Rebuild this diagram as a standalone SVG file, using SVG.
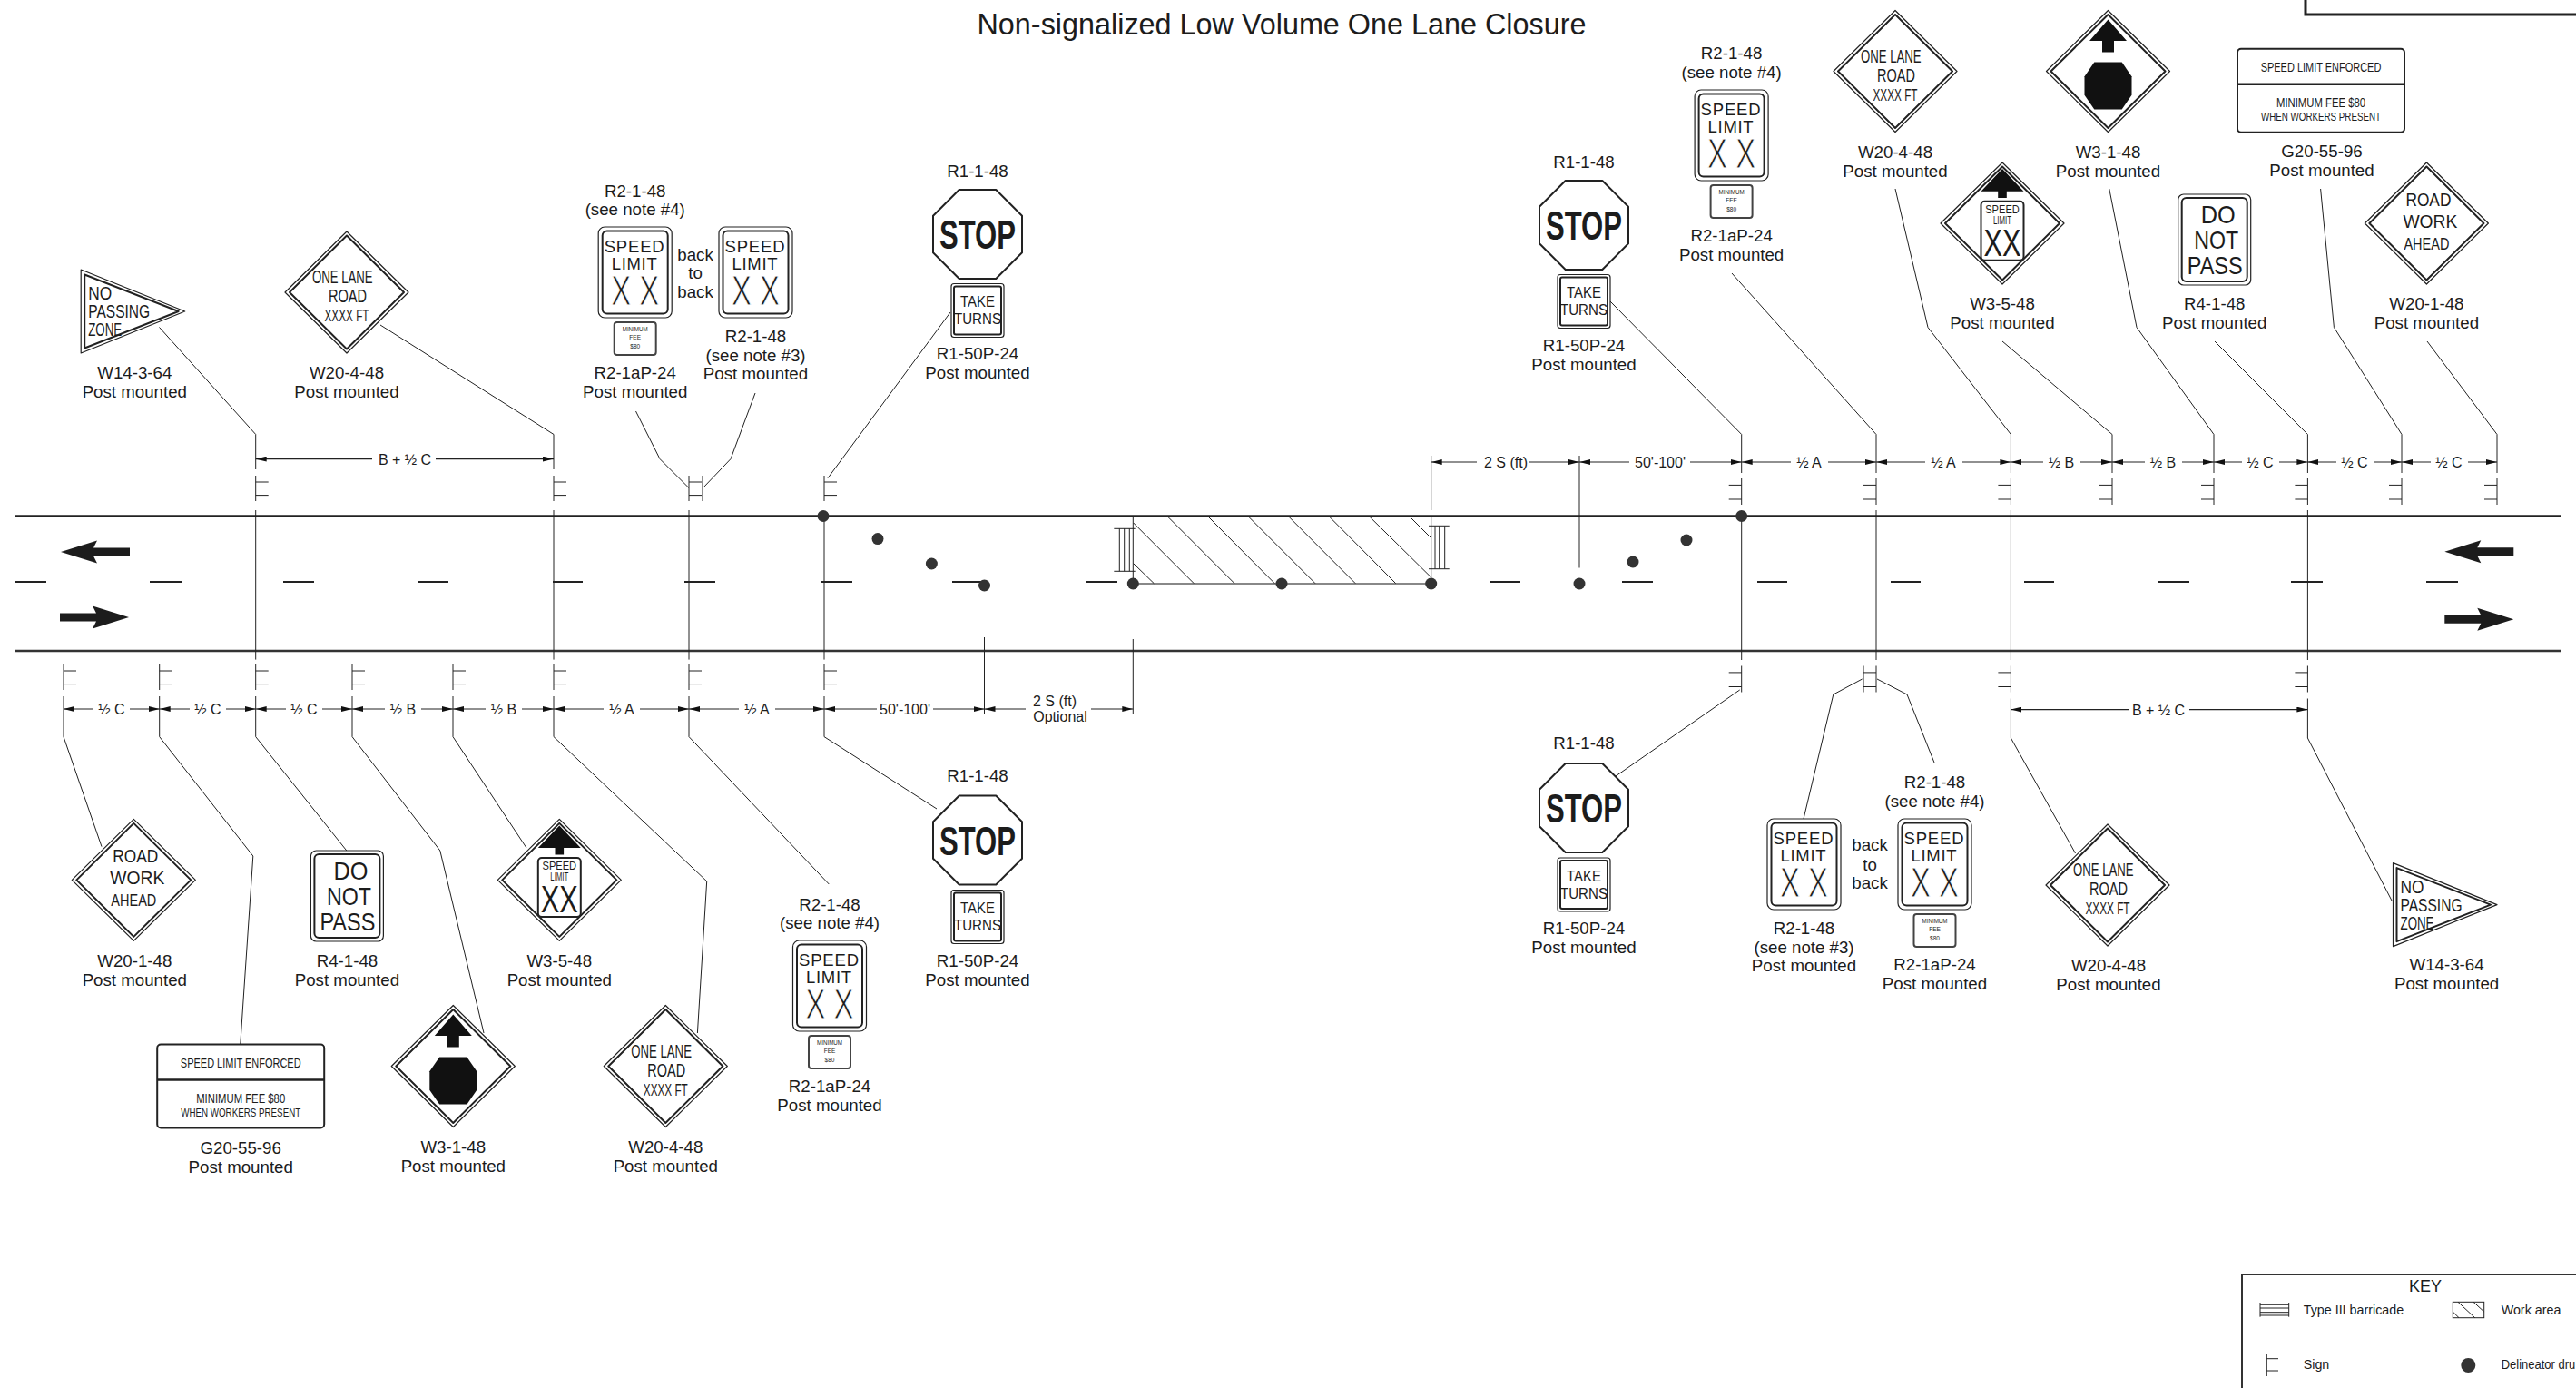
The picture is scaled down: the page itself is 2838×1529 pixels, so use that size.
<svg xmlns="http://www.w3.org/2000/svg" xmlns:xlink="http://www.w3.org/1999/xlink" width="2838" height="1529" viewBox="0 0 2838 1529">
<style>
text{font-family:"Liberation Sans",Arial,sans-serif;fill:#1c1c1c;text-anchor:middle}
.lb{font-size:18.7px}
.dm{font-size:16px}
.st{font-size:20px}
.sm{font-size:18px}
.sl{font-size:18.5px}
.xx{font-size:47px;stroke:#fff;stroke-width:1.1px}
.xb{font-size:43px}
.lm{font-size:12px}
.dn{font-size:28px}
.stop{font-size:45px;font-weight:bold}
.tk{font-size:17px}
.pl{font-size:6.5px}
.g1{font-size:15px}
.g2{font-size:13.5px}
.ti{font-size:33px}
.ky{font-size:14.3px;text-anchor:start}
.s{text-anchor:start}
.ln{fill:none;stroke:#222;stroke-width:1}
.o1{fill:#fff;stroke:#222;stroke-width:1.2;stroke-linejoin:round}
.o2{fill:#fff;stroke:#222;stroke-width:2;stroke-linejoin:round}
.dim{fill:none;stroke:#222;stroke-width:1.2;marker-start:url(#ah);marker-end:url(#ah)}
.rd{stroke:#222;stroke-width:2.5}
.dash{stroke:#222;stroke-width:1.8}
.dr{fill:#333}
</style>
<defs>
<marker id="ah" markerUnits="userSpaceOnUse" markerWidth="12" markerHeight="6" refX="12" refY="3" orient="auto-start-reverse"><path d="M0 0L12 3L0 6z" fill="#111"/></marker>
<g id="diamond"><polygon class="o1" points="0,-67 68,0 0,67 -68,0"/><polygon class="o2" points="0,-62.5 63,0 0,62.5 -63,0"/></g>
<g id="tri"><polygon class="o1" points="1.5,2 116,48 1.5,94"/><polygon class="o2" points="5.5,7.5 109,48 5.5,88.5"/></g>
<g id="slim"><rect class="o1" x="-40.5" y="-50" width="81" height="100" rx="7"/><rect class="o2" x="-36" y="-45.5" width="72" height="91" rx="5"/></g>
<g id="dnp"><rect class="o1" x="-40" y="-50" width="80" height="100" rx="6"/><rect class="o2" x="-36" y="-46" width="72" height="92" rx="5"/></g>
<g id="oct"><polygon class="o2" points="-20.3,-49 20.3,-49 49,-20.3 49,20.3 20.3,49 -20.3,49 -49,20.3 -49,-20.3"/></g>
<g id="take"><rect class="o1" x="-29" y="-29.5" width="58" height="59" rx="3"/><rect class="o2" x="-26" y="-26.5" width="52" height="53" rx="2"/></g>
<g id="plq"><rect class="o2" x="-23" y="-18" width="46" height="36" rx="3" style="stroke:#444"/></g>
<g id="gsign"><rect class="o2" x="-92" y="-46" width="184" height="92" rx="4"/><path d="M-92-7H92" class="ln" style="stroke-width:2.5"/></g>
<g id="p"><path class="ln" d="M0 0V28M0 7H14M0 21.6H14"/></g>
<g id="q"><path class="ln" d="M0 0V29M0 7.4H-14M0 23H-14"/></g>
<path id="al" d="M0 0L40-12.5L36-4.5H76V4.5H36L40 12.5z" fill="#1c1c1c"/>
<path id="ar" d="M0 0L-40-12.5L-36-4.5H-76V4.5H-36L-40 12.5z" fill="#1c1c1c"/>
</defs>
<rect width="2838" height="1529" fill="#fff"/>
<g id="title"><text class="ti" x="1412" y="38" textLength="671" lengthAdjust="spacingAndGlyphs">Non-signalized Low Volume One Lane Closure</text></g>
<path id="title-block" d="M2540 0V16H2838" fill="none" stroke="#222" stroke-width="3"/>

<g id="road">
<path class="rd" d="M17 568.5H2822"/>
<path class="rd" d="M17 717H2822" style="stroke:#333"/>
<path class="dash" d="M17 641H51M165 641H200M312 641H346M460 641H494M609 641H642M754 641H788M905 641H939M1049 641H1084M1196 641H1231M1641 641H1675M1787 641H1821M1936 641H1969M2083 641H2116M2230 641H2263M2377 641H2412M2524 641H2559M2673 641H2708"/>
<use xlink:href="#al" href="#al" x="67" y="608"/>
<use xlink:href="#ar" href="#ar" x="142" y="680"/>
<use xlink:href="#al" href="#al" x="2693.3" y="607.7"/>
<use xlink:href="#ar" href="#ar" x="2769.3" y="682.3"/>
</g>

<g id="work-area">
<path d="M1248.3 568V643H1576.7V568" fill="none" stroke="#222" stroke-width="1"/>
<path d="M1248.3 643H1576.7" fill="none" stroke="#888" stroke-width="2"/>
<path class="ln" d="M1248.7 576L1315.3 642.7M1248.7 620.7L1271.3 642.7M1286.7 569.3L1360 642.7M1331.3 569.3L1404.3 642.7M1375.7 569.3L1449 642.7M1420 569.3L1493.3 642.7M1464.7 569.3L1537.7 642.7M1509 569.3L1576.7 636M1553.3 569.3L1576.7 592.7"/>
<path id="barricade-left" class="ln" d="M1227.3 582.3H1250.7M1227.3 629.3H1250.7M1233.3 582.3V629.3M1238.7 582.3V629.3M1244.3 582.3V629.3"/>
<path id="barricade-right" class="ln" d="M1574 579.3H1596.7M1574 626.7H1596.7M1581 579.3V626.7M1585.7 579.3V626.7M1591.7 579.3V626.7"/>
</g>

<g id="connectors">
<g id="posts">
<use href="#p" x="281.7" y="524"/><use href="#p" x="610" y="524"/><use href="#p" x="759" y="524"/><use href="#p" x="908" y="524"/>
<path class="ln" d="M774 524V552"/>
<use href="#p" x="70" y="732"/><use href="#p" x="175.7" y="732"/><use href="#p" x="281.7" y="732"/><use href="#p" x="388" y="732"/><use href="#p" x="499" y="732"/><use href="#p" x="610" y="732"/><use href="#p" x="759" y="732"/><use href="#p" x="908" y="732"/>
<use href="#q" x="1918.7" y="527"/><use href="#q" x="2067" y="527"/><use href="#q" x="2215.4" y="527"/><use href="#q" x="2327" y="527"/><use href="#q" x="2439" y="527"/><use href="#q" x="2542.4" y="527"/><use href="#q" x="2646" y="527"/><use href="#q" x="2751" y="527"/>
<use href="#q" x="1918.7" y="733.5"/><use href="#q" x="2067" y="733.5"/><use href="#q" x="2215.4" y="733.5"/><use href="#q" x="2542.4" y="733.5"/>
<path class="ln" d="M2053 733.5V762.5"/>
</g>
<path class="ln" d="M281.7 562V726.6M610 562V726.6M759 562V726.6M908 568V726.6M1918.7 568V727M2067 562V727M2215.4 562V727M2542.4 562V727M1084.5 702V786M1248.3 704V786M1576.7 502V562M1740 502V625.5"/>
<g id="leaders" class="ln">
<polyline points="281.7,517 281.7,478.5 175.5,360.5"/>
<polyline points="610,517 610,478.5 419,358"/>
<polyline points="759,537.5 727,505.6 700.5,453"/>
<polyline points="774.5,537.5 805,505.6 832,433"/>
<polyline points="912,526.7 1047,344"/>
<polyline points="70,767 70,811.6 112,932.6"/>
<polyline points="175.7,767 175.7,811.6 278.8,943 264.8,1150"/>
<polyline points="281.7,767 281.7,811.6 381.8,937"/>
<polyline points="388,767 388,811.6 484.8,937 533,1138"/>
<polyline points="499,767 499,811.6 580,934"/>
<polyline points="610,767 610,811.6 778.7,970.8 768.4,1138"/>
<polyline points="759,767 759,811.6 913.3,974"/>
<polyline points="908,767 908,811.6 1032,891"/>
<polyline points="1774,332 1918.7,478.5 1918.7,521"/>
<polyline points="1908,301 2067,478.5 2067,521"/>
<polyline points="2088,208 2124,360.6 2215.4,478.5 2215.4,521"/>
<polyline points="2206,376 2327,478.5 2327,521"/>
<polyline points="2323.8,208 2354,360.6 2439,478.5 2439,521"/>
<polyline points="2440,376 2542.4,478.5 2542.4,521"/>
<polyline points="2556.6,208 2571.4,360.6 2646,478.5 2646,521"/>
<polyline points="2674,376 2751,478.5 2751,521"/>
<polyline points="1916.7,760 1780,855"/>
<polyline points="2051.6,748 2019.8,765 1987,902"/>
<polyline points="2068,748 2101,765 2131,840"/>
<polyline points="2215.4,769.5 2215.4,813 2286.5,940"/>
<polyline points="2542.4,769.5 2542.4,813 2635,992"/>
</g>
<g id="dimensions">
<path class="dim" d="M281.7 505.6H410M480 505.6H610"/><text class="dm" x="446" y="511.5">B + ½ C</text>
<path class="dim" d="M70 781H103M143 781H175.7"/><text class="dm" x="123" y="787">½ C</text>
<path class="dim" d="M175.7 781H209M249 781H281.7"/><text class="dm" x="229" y="787">½ C</text>
<path class="dim" d="M281.7 781H315M355 781H388"/><text class="dm" x="335" y="787">½ C</text>
<path class="dim" d="M388 781H424M464 781H499"/><text class="dm" x="444" y="787">½ B</text>
<path class="dim" d="M499 781H535M575 781H610"/><text class="dm" x="555" y="787">½ B</text>
<path class="dim" d="M610 781H665M705 781H759"/><text class="dm" x="685" y="787">½ A</text>
<path class="dim" d="M759 781H814M854 781H908"/><text class="dm" x="834" y="787">½ A</text>
<path class="dim" d="M908 781H966M1028 781H1084.5"/><text class="dm" x="997" y="787">50'-100'</text>
<path class="dim" d="M1084.5 781H1130M1202 781H1248.3"/><text class="dm" x="1162" y="778">2 S (ft)</text><text class="dm" x="1168" y="795">Optional</text>
<path class="dim" d="M1576.7 509H1627M1685 509H1740"/><text class="dm" x="1659" y="515">2 S (ft)</text>
<path class="dim" d="M1740 509H1795M1862 509H1918.7"/><text class="dm" x="1829" y="515">50'-100'</text>
<path class="dim" d="M1918.7 509H1973M2014 509H2067"/><text class="dm" x="1993" y="515">½ A</text>
<path class="dim" d="M2067 509H2121M2162 509H2215.4"/><text class="dm" x="2141" y="515">½ A</text>
<path class="dim" d="M2215.4 509H2251M2292 509H2327"/><text class="dm" x="2271" y="515">½ B</text>
<path class="dim" d="M2327 509H2363M2404 509H2439"/><text class="dm" x="2383" y="515">½ B</text>
<path class="dim" d="M2439 509H2470M2511 509H2542.4"/><text class="dm" x="2490" y="515">½ C</text>
<path class="dim" d="M2542.4 509H2574M2615 509H2646"/><text class="dm" x="2594" y="515">½ C</text>
<path class="dim" d="M2646 509H2678M2719 509H2751"/><text class="dm" x="2698" y="515">½ C</text>
<path class="dim" d="M2215.4 781.6H2345M2412 781.6H2542.4"/><text class="dm" x="2378" y="787.5">B + ½ C</text>
</g>
</g>

<g id="drums">
<circle class="dr" cx="907" cy="568.5" r="6.5"/><circle class="dr" cx="1918.7" cy="568.5" r="6.5"/>
<circle class="dr" cx="967" cy="593.6" r="6.5"/><circle class="dr" cx="1026.4" cy="621" r="6.5"/><circle class="dr" cx="1084.5" cy="645" r="6.5"/>
<circle class="dr" cx="1248.3" cy="643" r="6.5"/><circle class="dr" cx="1412" cy="643" r="6.5"/><circle class="dr" cx="1576.7" cy="643" r="6.5"/>
<circle class="dr" cx="1740" cy="643" r="6.5"/><circle class="dr" cx="1799" cy="619" r="6.5"/><circle class="dr" cx="1858" cy="595" r="6.5"/>
</g>

<!-- top left -->
<g id="w14-3-top" transform="translate(87.7,295)"><use href="#tri"/>
<text class="st s" x="9.5" y="35" textLength="26" lengthAdjust="spacingAndGlyphs">NO</text><text class="st s" x="9.5" y="55" textLength="68" lengthAdjust="spacingAndGlyphs">PASSING</text><text class="st s" x="9.5" y="75" textLength="37" lengthAdjust="spacingAndGlyphs">ZONE</text>
<text class="lb" x="60.6" y="122">W14-3-64</text><text class="lb" x="60.6" y="143">Post mounted</text></g>
<g id="w20-4-top-a" transform="translate(382,322)"><use href="#diamond"/>
<text class="st" x="-4.7" y="-10" textLength="66.7" lengthAdjust="spacingAndGlyphs">ONE LANE</text><text class="st" x="1" y="11" textLength="42" lengthAdjust="spacingAndGlyphs">ROAD</text><text class="sm" x="0" y="32" textLength="49" lengthAdjust="spacingAndGlyphs">XXXX FT</text>
<text class="lb" x="0" y="95">W20-4-48</text><text class="lb" x="0" y="116">Post mounted</text></g>
<g id="r2-1-top-a" transform="translate(699.7,300)"><use href="#slim"/>
<text class="sl" x="-1" y="-22.5" textLength="66">SPEED</text><text class="sl" x="-1" y="-2.7" textLength="50">LIMIT</text><text class="xx" x="0" y="36" textLength="53" lengthAdjust="spacingAndGlyphs">X X</text>
<text class="lb" x="0" y="-83">R2-1-48</text><text class="lb" x="0" y="-62.7">(see note #4)</text>
<g transform="translate(0,73)"><use href="#plq"/><text class="pl" y="-8" textLength="28" lengthAdjust="spacingAndGlyphs">MINIMUM</text><text class="pl" y="1.3">FEE</text><text class="pl" y="11.3">$80</text></g>
<text class="lb" x="0" y="117.3">R2-1aP-24</text><text class="lb" x="0" y="138.3">Post mounted</text></g>
<g id="back-top"><text class="lb" x="766" y="286.7">back</text><text class="lb" x="766" y="307.3">to</text><text class="lb" x="766" y="327.7">back</text></g>
<g id="r2-1-top-b" transform="translate(832.5,300)"><use href="#slim"/>
<text class="sl" x="-1" y="-22.5" textLength="66">SPEED</text><text class="sl" x="-1" y="-2.7" textLength="50">LIMIT</text><text class="xx" x="0" y="36" textLength="53" lengthAdjust="spacingAndGlyphs">X X</text>
<text class="lb" x="0" y="77.3">R2-1-48</text><text class="lb" x="0" y="98">(see note #3)</text><text class="lb" x="0" y="118.3">Post mounted</text></g>
<g id="r1-top-a" transform="translate(1077,258)"><use href="#oct"/>
<text class="stop" x="0" y="16" textLength="84" lengthAdjust="spacingAndGlyphs">STOP</text><text class="lb" x="0" y="-63">R1-1-48</text>
<g transform="translate(0,84)"><use href="#take"/><text class="tk" y="-3.7" textLength="38" lengthAdjust="spacingAndGlyphs">TAKE</text><text class="tk" y="15.3" textLength="52" lengthAdjust="spacingAndGlyphs">TURNS</text></g>
<text class="lb" x="0" y="138">R1-50P-24</text><text class="lb" x="0" y="159">Post mounted</text></g>

<!-- top right -->
<g id="r1-top-b" transform="translate(1745,248)"><use href="#oct"/>
<text class="stop" x="0" y="16" textLength="84" lengthAdjust="spacingAndGlyphs">STOP</text><text class="lb" x="0" y="-63">R1-1-48</text>
<g transform="translate(0,84)"><use href="#take"/><text class="tk" y="-3.7" textLength="38" lengthAdjust="spacingAndGlyphs">TAKE</text><text class="tk" y="15.3" textLength="52" lengthAdjust="spacingAndGlyphs">TURNS</text></g>
<text class="lb" x="0" y="139">R1-50P-24</text><text class="lb" x="0" y="160">Post mounted</text></g>
<g id="r2-1-top-c" transform="translate(1907.6,149)"><use href="#slim"/>
<text class="sl" x="-1" y="-22.5" textLength="66">SPEED</text><text class="sl" x="-1" y="-2.7" textLength="50">LIMIT</text><text class="xx" x="0" y="36" textLength="53" lengthAdjust="spacingAndGlyphs">X X</text>
<text class="lb" x="0" y="-84">R2-1-48</text><text class="lb" x="0" y="-63">(see note #4)</text>
<g transform="translate(0,73)"><use href="#plq"/><text class="pl" y="-8" textLength="28" lengthAdjust="spacingAndGlyphs">MINIMUM</text><text class="pl" y="1.3">FEE</text><text class="pl" y="11.3">$80</text></g>
<text class="lb" x="0" y="117.3">R2-1aP-24</text><text class="lb" x="0" y="138.3">Post mounted</text></g>
<g id="w20-4-top-b" transform="translate(2088,78.5)"><use href="#diamond"/>
<text class="st" x="-4.7" y="-10" textLength="66.7" lengthAdjust="spacingAndGlyphs">ONE LANE</text><text class="st" x="1" y="11" textLength="42" lengthAdjust="spacingAndGlyphs">ROAD</text><text class="sm" x="0" y="32" textLength="49" lengthAdjust="spacingAndGlyphs">XXXX FT</text>
<text class="lb" x="0" y="95">W20-4-48</text><text class="lb" x="0" y="116">Post mounted</text></g>
<g id="w3-1-top" transform="translate(2322.5,78.5)"><use href="#diamond"/>
<polygon points="0,-57 20.5,-33.5 6.5,-33.5 6.5,-21 -6.5,-21 -6.5,-33.5 -20.5,-33.5" fill="#111"/>
<polygon points="-15.2,-10 15.2,-10 26,5.8 26,26.2 15.2,42 -15.2,42 -26,26.2 -26,5.8" fill="#111"/>
<text class="lb" x="0" y="95">W3-1-48</text><text class="lb" x="0" y="116">Post mounted</text></g>
<g id="g20-top" transform="translate(2557,99.7)"><use href="#gsign"/>
<text class="g1" x="0" y="-20.4" textLength="132.7" lengthAdjust="spacingAndGlyphs">SPEED LIMIT ENFORCED</text><text class="g1" x="0" y="18" textLength="98" lengthAdjust="spacingAndGlyphs">MINIMUM FEE $80</text><text class="g2" x="0" y="33" textLength="132" lengthAdjust="spacingAndGlyphs">WHEN WORKERS PRESENT</text>
<text class="lb" x="1" y="73">G20-55-96</text><text class="lb" x="1" y="94">Post mounted</text></g>
<g id="w3-5-top" transform="translate(2206,246)"><use href="#diamond"/>
<polygon points="0,-60 23.5,-35.3 4.8,-35.3 4.8,-28 -4.8,-28 -4.8,-35.3 -23.5,-35.3" fill="#111"/>
<rect class="o2" x="-23.5" y="-24.3" width="47" height="65" rx="4" style="stroke-width:2"/>
<text class="lm" x="0" y="-11" textLength="37.6" lengthAdjust="spacingAndGlyphs">SPEED</text><text class="lm" x="0" y="0.7" textLength="20" lengthAdjust="spacingAndGlyphs">LIMIT</text><text class="xb" x="0" y="35.7" textLength="41" lengthAdjust="spacingAndGlyphs">XX</text>
<text class="lb" x="0" y="95">W3-5-48</text><text class="lb" x="0" y="116">Post mounted</text></g>
<g id="r4-1-top" transform="translate(2439.7,264)"><use href="#dnp"/>
<text class="dn" x="4" y="-18.4" textLength="38" lengthAdjust="spacingAndGlyphs">DO</text><text class="dn" x="2" y="10" textLength="49" lengthAdjust="spacingAndGlyphs">NOT</text><text class="dn" x="0.5" y="37.7" textLength="61" lengthAdjust="spacingAndGlyphs">PASS</text>
<text class="lb" x="0" y="77">R4-1-48</text><text class="lb" x="0" y="98">Post mounted</text></g>
<g id="w20-1-top" transform="translate(2673.4,246)"><use href="#diamond"/>
<text class="st" x="2" y="-19" textLength="50" lengthAdjust="spacingAndGlyphs" style="font-size:21px">ROAD</text><text class="st" x="4" y="5" textLength="60" lengthAdjust="spacingAndGlyphs" style="font-size:21px">WORK</text><text class="st" x="0" y="29" textLength="50" lengthAdjust="spacingAndGlyphs" style="font-size:19px">AHEAD</text>
<text class="lb" x="0" y="95">W20-1-48</text><text class="lb" x="0" y="116">Post mounted</text></g>

<!-- bottom left -->
<g id="w20-1-bottom" transform="translate(147.3,969.4)"><use href="#diamond"/>
<text class="st" x="2" y="-19" textLength="50" lengthAdjust="spacingAndGlyphs" style="font-size:21px">ROAD</text><text class="st" x="4" y="5" textLength="60" lengthAdjust="spacingAndGlyphs" style="font-size:21px">WORK</text><text class="st" x="0" y="29" textLength="50" lengthAdjust="spacingAndGlyphs" style="font-size:19px">AHEAD</text>
<text class="lb" x="1" y="95.5">W20-1-48</text><text class="lb" x="1" y="116.5">Post mounted</text></g>
<g id="g20-bottom" transform="translate(265.2,1196.5)"><use href="#gsign"/>
<text class="g1" x="0" y="-20.4" textLength="132.7" lengthAdjust="spacingAndGlyphs">SPEED LIMIT ENFORCED</text><text class="g1" x="0" y="18" textLength="98" lengthAdjust="spacingAndGlyphs">MINIMUM FEE $80</text><text class="g2" x="0" y="33" textLength="132" lengthAdjust="spacingAndGlyphs">WHEN WORKERS PRESENT</text>
<text class="lb" x="0" y="74">G20-55-96</text><text class="lb" x="0" y="95.5">Post mounted</text></g>
<g id="r4-1-bottom" transform="translate(382.4,987)"><use href="#dnp"/>
<text class="dn" x="4" y="-18.4" textLength="38" lengthAdjust="spacingAndGlyphs">DO</text><text class="dn" x="2" y="10" textLength="49" lengthAdjust="spacingAndGlyphs">NOT</text><text class="dn" x="0.5" y="37.7" textLength="61" lengthAdjust="spacingAndGlyphs">PASS</text>
<text class="lb" x="0" y="77.5">R4-1-48</text><text class="lb" x="0" y="98.5">Post mounted</text></g>
<g id="w3-1-bottom" transform="translate(499.3,1174.5)"><use href="#diamond"/>
<polygon points="0,-57 20.5,-33.5 6.5,-33.5 6.5,-21 -6.5,-21 -6.5,-33.5 -20.5,-33.5" fill="#111"/>
<polygon points="-15.2,-10 15.2,-10 26,5.8 26,26.2 15.2,42 -15.2,42 -26,26.2 -26,5.8" fill="#111"/>
<text class="lb" x="0" y="95">W3-1-48</text><text class="lb" x="0" y="116.5">Post mounted</text></g>
<g id="w3-5-bottom" transform="translate(616.3,969.4)"><use href="#diamond"/>
<polygon points="0,-60 23.5,-35.3 4.8,-35.3 4.8,-28 -4.8,-28 -4.8,-35.3 -23.5,-35.3" fill="#111"/>
<rect class="o2" x="-23.5" y="-24.3" width="47" height="65" rx="4" style="stroke-width:2"/>
<text class="lm" x="0" y="-11" textLength="37.6" lengthAdjust="spacingAndGlyphs">SPEED</text><text class="lm" x="0" y="0.7" textLength="20" lengthAdjust="spacingAndGlyphs">LIMIT</text><text class="xb" x="0" y="35.7" textLength="41" lengthAdjust="spacingAndGlyphs">XX</text>
<text class="lb" x="0" y="95.5">W3-5-48</text><text class="lb" x="0" y="116.5">Post mounted</text></g>
<g id="w20-4-bottom-a" transform="translate(733.3,1174.5)"><use href="#diamond"/>
<text class="st" x="-4.7" y="-10" textLength="66.7" lengthAdjust="spacingAndGlyphs">ONE LANE</text><text class="st" x="1" y="11" textLength="42" lengthAdjust="spacingAndGlyphs">ROAD</text><text class="sm" x="0" y="32" textLength="49" lengthAdjust="spacingAndGlyphs">XXXX FT</text>
<text class="lb" x="0" y="95">W20-4-48</text><text class="lb" x="0" y="116.5">Post mounted</text></g>
<g id="r2-1-bottom-a" transform="translate(914,1086)"><use href="#slim"/>
<text class="sl" x="-1" y="-22.5" textLength="66">SPEED</text><text class="sl" x="-1" y="-2.7" textLength="50">LIMIT</text><text class="xx" x="0" y="36" textLength="53" lengthAdjust="spacingAndGlyphs">X X</text>
<text class="lb" x="0" y="-83">R2-1-48</text><text class="lb" x="0" y="-62.7">(see note #4)</text>
<g transform="translate(0,73)"><use href="#plq"/><text class="pl" y="-8" textLength="28" lengthAdjust="spacingAndGlyphs">MINIMUM</text><text class="pl" y="1.3">FEE</text><text class="pl" y="11.3">$80</text></g>
<text class="lb" x="0" y="117.3">R2-1aP-24</text><text class="lb" x="0" y="138.3">Post mounted</text></g>
<g id="r1-bottom-a" transform="translate(1077,925.5)"><use href="#oct"/>
<text class="stop" x="0" y="16" textLength="84" lengthAdjust="spacingAndGlyphs">STOP</text><text class="lb" x="0" y="-64.5">R1-1-48</text>
<g transform="translate(0,84.5)"><use href="#take"/><text class="tk" y="-3.7" textLength="38" lengthAdjust="spacingAndGlyphs">TAKE</text><text class="tk" y="15.3" textLength="52" lengthAdjust="spacingAndGlyphs">TURNS</text></g>
<text class="lb" x="0" y="139">R1-50P-24</text><text class="lb" x="0" y="160">Post mounted</text></g>

<!-- bottom right -->
<g id="r1-bottom-b" transform="translate(1745,890)"><use href="#oct"/>
<text class="stop" x="0" y="16" textLength="84" lengthAdjust="spacingAndGlyphs">STOP</text><text class="lb" x="0" y="-65">R1-1-48</text>
<g transform="translate(0,84.5)"><use href="#take"/><text class="tk" y="-3.7" textLength="38" lengthAdjust="spacingAndGlyphs">TAKE</text><text class="tk" y="15.3" textLength="52" lengthAdjust="spacingAndGlyphs">TURNS</text></g>
<text class="lb" x="0" y="138.5">R1-50P-24</text><text class="lb" x="0" y="159.5">Post mounted</text></g>
<g id="r2-1-bottom-b" transform="translate(1987.5,952)"><use href="#slim"/>
<text class="sl" x="-1" y="-22.5" textLength="66">SPEED</text><text class="sl" x="-1" y="-2.7" textLength="50">LIMIT</text><text class="xx" x="0" y="36" textLength="53" lengthAdjust="spacingAndGlyphs">X X</text>
<text class="lb" x="0" y="77.3">R2-1-48</text><text class="lb" x="0" y="98">(see note #3)</text><text class="lb" x="0" y="118.3">Post mounted</text></g>
<g id="back-bottom"><text class="lb" x="2060" y="937">back</text><text class="lb" x="2060" y="958.5">to</text><text class="lb" x="2060" y="979">back</text></g>
<g id="r2-1-bottom-c" transform="translate(2131.5,952)"><use href="#slim"/>
<text class="sl" x="-1" y="-22.5" textLength="66">SPEED</text><text class="sl" x="-1" y="-2.7" textLength="50">LIMIT</text><text class="xx" x="0" y="36" textLength="53" lengthAdjust="spacingAndGlyphs">X X</text>
<text class="lb" x="0" y="-84">R2-1-48</text><text class="lb" x="0" y="-63">(see note #4)</text>
<g transform="translate(0,73)"><use href="#plq"/><text class="pl" y="-8" textLength="28" lengthAdjust="spacingAndGlyphs">MINIMUM</text><text class="pl" y="1.3">FEE</text><text class="pl" y="11.3">$80</text></g>
<text class="lb" x="0" y="117.3">R2-1aP-24</text><text class="lb" x="0" y="138.3">Post mounted</text></g>
<g id="w20-4-bottom-b" transform="translate(2322,975)"><use href="#diamond"/>
<text class="st" x="-4.7" y="-10" textLength="66.7" lengthAdjust="spacingAndGlyphs">ONE LANE</text><text class="st" x="1" y="11" textLength="42" lengthAdjust="spacingAndGlyphs">ROAD</text><text class="sm" x="0" y="32" textLength="49" lengthAdjust="spacingAndGlyphs">XXXX FT</text>
<text class="lb" x="1" y="94.5">W20-4-48</text><text class="lb" x="1" y="115.5">Post mounted</text></g>
<g id="w14-3-bottom" transform="translate(2635,948.6)"><use href="#tri"/>
<text class="st s" x="9.5" y="35" textLength="26" lengthAdjust="spacingAndGlyphs">NO</text><text class="st s" x="9.5" y="55" textLength="68" lengthAdjust="spacingAndGlyphs">PASSING</text><text class="st s" x="9.5" y="75" textLength="37" lengthAdjust="spacingAndGlyphs">ZONE</text>
<text class="lb" x="60.6" y="120">W14-3-64</text><text class="lb" x="60.6" y="141">Post mounted</text></g>

<g id="key">
<path d="M2470 1529V1404H2838" fill="none" stroke="#333" stroke-width="2"/>
<text x="2672" y="1423" style="font-size:18px">KEY</text>
<path class="ln" d="M2490 1435V1450.7M2521.7 1435V1450.7M2490 1437.3H2521.7M2490 1441H2521.7M2490 1445.7H2521.7M2490 1449H2521.7"/>
<text class="ky" x="2537.7" y="1447.7">Type III barricade</text>
<rect class="ln" x="2702.3" y="1434.3" width="34.4" height="17.4"/>
<path class="ln" d="M2708 1434.3L2726.7 1451.7M2725 1434.3L2736.7 1445M2702.3 1445L2709 1451.7"/>
<text class="ky" x="2755.7" y="1447.7">Work area</text>
<path class="ln" d="M2497.3 1491V1516M2497.3 1496.7H2510M2497.3 1510H2510"/>
<text class="ky" x="2537.7" y="1508.3">Sign</text>
<circle class="dr" cx="2719.3" cy="1504" r="8"/>
<text class="ky" x="2755.7" y="1508.3" textLength="81.5" lengthAdjust="spacingAndGlyphs">Delineator dru</text>
</g>
</svg>
